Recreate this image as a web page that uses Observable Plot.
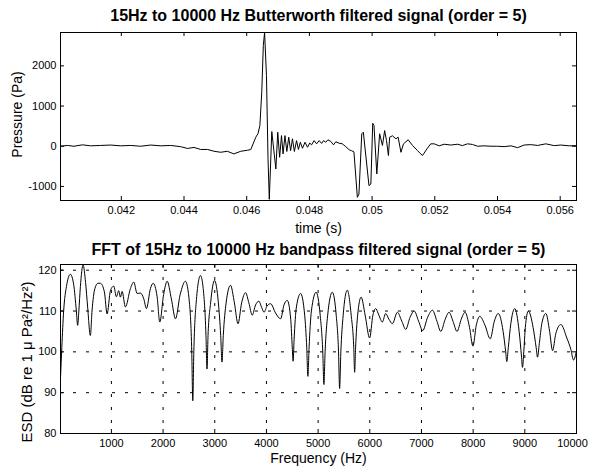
<!DOCTYPE html>
<html><head><meta charset="utf-8">
<script src="https://cdn.jsdelivr.net/npm/d3@7"></script>
<script src="https://cdn.jsdelivr.net/npm/@observablehq/plot@0.6"></script>
<style>
html,body{margin:0;padding:0;background:#fff;}
#fig{position:relative;width:590px;height:472px;overflow:hidden;background:#fff;}
#fig svg{position:absolute;left:0;display:block;overflow:visible;}
</style></head><body><div id="fig"></div>
<script>
// ---- top panel: filtered signal ----
const timeS = [0.04006,0.04028,0.04049,0.04076,0.04102,0.04134,0.04166,0.04198,0.04230,0.04262,0.04294,0.04326,0.04357,0.04389,0.04411,0.04432,0.04453,0.04475,0.04496,0.04517,0.04538,0.04559,0.04581,0.04602,0.04613,0.04629,0.04636,0.04642,0.04648,0.04653,0.04657,0.04663,0.04668,0.04672,0.04680,0.04693,0.04699,0.04705,0.04711,0.04716,0.04722,0.04728,0.04734,0.04740,0.04746,0.04752,0.04759,0.04765,0.04771,0.04778,0.04786,0.04794,0.04801,0.04807,0.04815,0.04823,0.04831,0.04839,0.04845,0.04852,0.04859,0.04868,0.04877,0.04884,0.04895,0.04905,0.04916,0.04927,0.04934,0.04942,0.04953,0.04958,0.04967,0.04972,0.04990,0.04996,0.05002,0.05006,0.05015,0.05024,0.05033,0.05040,0.05046,0.05052,0.05056,0.05065,0.05076,0.05083,0.05092,0.05100,0.05115,0.05129,0.05145,0.05153,0.05161,0.05175,0.05187,0.05198,0.05214,0.05230,0.05251,0.05273,0.05288,0.05304,0.05320,0.05336,0.05357,0.05379,0.05400,0.05421,0.05443,0.05464,0.05485,0.05506,0.05528,0.05554,0.05581,0.05602,0.05629,0.05652];
const pressurePa = [0,20,0,35,10,20,30,10,20,0,30,10,20,-10,-55,-30,-80,-80,-125,-150,-125,-190,-125,-100,-83,225,315,515,1345,2510,2830,1760,-310,-1320,365,-565,350,-275,265,-190,265,-130,225,-110,185,-130,140,-80,100,-50,100,-25,80,35,140,60,140,70,140,100,160,120,35,110,75,60,-10,-90,-110,-140,-1270,-1190,310,350,-980,-940,570,515,-690,310,20,390,140,-230,225,260,185,225,-150,60,160,20,-110,-175,-230,-65,60,60,10,50,30,50,15,60,45,0,10,0,0,-10,10,-35,30,40,20,60,15,30,10,15];
const timeTicks = [0.042,0.044,0.046,0.048,0.05,0.052,0.054,0.056];
const pressureTicks = [-1000,0,1000,2000];
const topTitle = "15Hz to 10000 Hz Butterworth filtered signal (order = 5)";
const topXLabel = "time (s)";
const topYLabel = "Pressure (Pa)";

// ---- bottom panel: energy spectral density ----
const freqHz = [15,40,76,130,206,270,322,347,370,400,452,500,540,593,625,680,740,787,864,917,981,1045,1097,1141,1175,1207,1271,1368,1432,1498,1562,1626,1678,1755,1808,1885,1936,2010,2079,2160,2240,2330,2433,2510,2555,2575,2595,2640,2724,2800,2830,2850,2870,2920,2995,3070,3115,3140,3165,3220,3305,3380,3450,3520,3596,3660,3725,3790,3853,3910,3954,4010,4080,4177,4274,4340,4403,4470,4500,4516,4535,4580,4661,4740,4780,4802,4825,4870,4961,5040,5090,5112,5135,5185,5275,5350,5395,5416,5440,5485,5565,5640,5690,5707,5725,5765,5833,5910,5997,6060,6114,6160,6197,6243,6307,6370,6437,6534,6620,6695,6780,6859,6945,7024,7120,7212,7300,7373,7460,7533,7610,7688,7770,7843,7930,7996,8060,8128,8230,8331,8410,8486,8580,8630,8651,8680,8730,8806,8890,8935,8955,8980,9010,9068,9160,9220,9246,9280,9330,9407,9480,9537,9600,9697,9813,9891,9943,10000];
const esdDb = [93.5,101,110,116,119,116.5,110,106.5,110,116,121.3,117,111,104,110,115.5,116.8,116.8,114.7,109.3,115,116.1,113.5,115,113.4,114.8,111,115.5,117.1,114.3,114.4,113,110.6,115.5,116.8,113.5,107.3,114,117.3,113,108.1,114,117.3,112,100,88,100,112,118.7,112,104,95.8,104,112,117.5,112,104,97.5,104,112,116.3,112,106.9,112,114.5,112,109,111.5,112.4,110.8,109.7,111.2,111.8,109.5,108.1,111.5,112.6,108,101,97.7,103,111,114.3,109,101,94,101,110,114.6,109,100,92,100,109,114.6,109,100,91,100,109,115.1,109,101,95,101,109,113.4,109,103.4,109,110.6,109.5,108.3,107.3,109.4,108,106.9,109.7,107.5,105.5,108.5,110,107.5,105.2,108.5,110.2,107.5,105,108,109.7,107.5,105,108,109.7,106,101.4,106.5,108.7,106.5,103.2,107.5,109.4,105,100,97.6,101,107,110.6,105,99,96.2,100,106,110,106,101,98.7,102,107,109.4,105,100.3,104.5,106.7,103.4,100.6,98,100.3];
const freqTicks = [1000,2000,3000,4000,5000,6000,7000,8000,9000,10000];
const esdTicks = [80,90,100,110,120];
const botTitle = "FFT of 15Hz to 10000 Hz bandpass filtered signal (order = 5)";
const botXLabel = "Frequency (Hz)";
const botYLabel = "ESD (dB re 1 \u03bc Pa\u00b2/Hz\u00b2)";

const FONT = "'Liberation Sans', Arial, Helvetica, sans-serif";

function panel(o) {
  const W = 590, H = 236, ml = 60, mr = 14;
  const fw = W - ml - mr, fh = H - o.mt - o.mb, tk = 4;
  const rows = o.xs.map((v, i) => ({x: v, y: o.ys[i]}));
  const marks = [];
  if (o.grid) {
    marks.push(Plot.gridX(o.xTicks.filter(v => v < o.xDomain[1]), {stroke: "#000", strokeOpacity: 1, strokeWidth: 1, strokeDasharray: "3,10"}));
    marks.push(Plot.gridY(o.yTicks.filter(v => v > o.yDomain[0]), {stroke: "#000", strokeOpacity: 1, strokeWidth: 1, strokeDasharray: "3,10"}));
  }
  marks.push(Plot.line(rows, {x: "x", y: "y", stroke: "#000", strokeWidth: 1, curve: o.curve}));
  marks.push(Plot.tickX(o.xTicks, {x: d => d, insetTop: fh - tk, stroke: "#000"}));
  marks.push(Plot.tickX(o.xTicks, {x: d => d, insetBottom: fh - tk, stroke: "#000"}));
  marks.push(Plot.tickY(o.yTicks, {y: d => d, insetRight: fw - tk, stroke: "#000"}));
  marks.push(Plot.tickY(o.yTicks, {y: d => d, insetLeft: fw - tk, stroke: "#000"}));
  marks.push(Plot.frame({stroke: "#000", strokeWidth: 1}));
  const edgeTick = o.xTicks.filter(v => v >= o.xDomain[1]);
  const innerTicks = o.xTicks.filter(v => v < o.xDomain[1]);
  marks.push(Plot.axisX(innerTicks, {tickSize: 0, tickPadding: 6, fontSize: 11, tickFormat: d => String(d), label: null}));
  if (edgeTick.length) marks.push(Plot.axisX(edgeTick, {tickSize: 0, tickPadding: 6, fontSize: 11, dx: -4, tickFormat: d => String(d), label: null}));
  marks.push(Plot.axisY(o.yTicks, {tickSize: 0, tickPadding: 4, fontSize: 11, tickFormat: d => String(d), label: null}));
  marks.push(Plot.text([o.title], {text: d => d, frameAnchor: "top", dy: o.titleDy, fontSize: 16, fontWeight: "bold", lineAnchor: "middle", textAnchor: "middle"}));
  marks.push(Plot.text([o.xLabel], {text: d => d, frameAnchor: "bottom", dy: o.xLabelDy, fontSize: 14, lineAnchor: "middle", textAnchor: "middle"}));
  marks.push(Plot.text([o.yLabel], {text: d => d, frameAnchor: "left", dx: o.yLabelDx, dy: o.yLabelDy || 0, rotate: -90, fontSize: o.yLabelSize || 14, lineAnchor: "middle", textAnchor: "middle"}));
  return Plot.plot({
    width: W, height: H, marginTop: o.mt, marginBottom: o.mb, marginLeft: ml, marginRight: mr,
    x: {domain: o.xDomain, label: null}, y: {domain: o.yDomain, label: null},
    style: {fontFamily: FONT, color: "#000", background: "#fff", overflow: "visible"},
    marks
  });
}

const topChart = panel({
  xs: timeS, ys: pressurePa, xDomain: [0.04006, 0.05652], yDomain: [-1350, 2830],
  xTicks: timeTicks, yTicks: pressureTicks, grid: false, curve: "linear",
  mt: 32, mb: 36, title: topTitle, titleDy: -16.5, xLabel: topXLabel, xLabelDy: 28,
  yLabel: topYLabel, yLabelDx: -42.5, yLabelDy: -2
});
const botChart = panel({
  xs: freqHz, ys: esdDb, xDomain: [15, 10000], yDomain: [80, 121.4],
  xTicks: freqTicks, yTicks: esdTicks, grid: true, curve: "monotone-x",
  mt: 28, mb: 39, title: botTitle, titleDy: -15, xLabelDy: 25, xLabel: botXLabel,
  yLabel: botYLabel, yLabelDx: -33, yLabelDy: 13, yLabelSize: 15
});
const fig = document.getElementById("fig");
topChart.style.top = "0px";
botChart.style.top = "236px";
fig.appendChild(topChart);
fig.appendChild(botChart);
</script></body></html>
